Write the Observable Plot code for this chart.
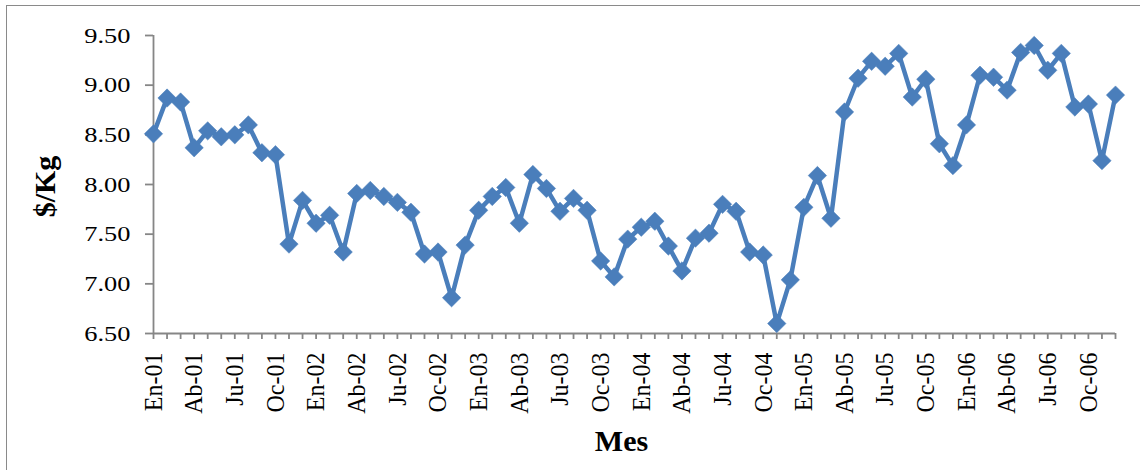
<!DOCTYPE html>
<html>
<head>
<meta charset="utf-8">
<script src="https://cdn.jsdelivr.net/npm/d3@7"></script>
<script src="https://cdn.jsdelivr.net/npm/@observablehq/plot@0.6"></script>
<style>
  html, body { margin: 0; padding: 0; background: #fff; }
  #wrap { position: relative; width: 1140px; height: 470px; overflow: hidden; }
  #border { position: absolute; left: 6px; top: 5px; width: 1300px; height: 600px;
            border-left: 1.5px solid #8a8a8a; border-top: 1.5px solid #8a8a8a; }
  #chart { position: absolute; left: 0; top: 0; }
  #chart svg text { font-family: 'Liberation Serif', 'Times New Roman', serif; }
</style>
</head>
<body>
<div id="wrap"><div id="border"></div><div id="chart"></div></div>
<script>
const years = ["01", "02", "03", "04", "05", "06"];
const monthAbbr = ["En", "Fe", "Mr", "Ab", "My", "Jn", "Ju", "Ag", "Se", "Oc", "No", "Di"];
const values2001 = [8.51, 8.87, 8.83, 8.37, 8.54, 8.48, 8.50, 8.60, 8.32, 8.30, 7.40, 7.84];
const values2002 = [7.61, 7.69, 7.32, 7.91, 7.94, 7.88, 7.82, 7.72, 7.30, 7.32, 6.86, 7.39];
const values2003 = [7.74, 7.88, 7.97, 7.61, 8.10, 7.96, 7.73, 7.86, 7.74, 7.23, 7.07, 7.45];
const values2004 = [7.57, 7.63, 7.38, 7.13, 7.46, 7.51, 7.80, 7.73, 7.32, 7.29, 6.60, 7.04];
const values2005 = [7.77, 8.09, 7.66, 8.73, 9.07, 9.24, 9.19, 9.32, 8.88, 9.06, 8.41, 8.19];
const values2006 = [8.60, 9.10, 9.08, 8.95, 9.33, 9.40, 9.15, 9.32, 8.78, 8.81, 8.24, 8.90];
const yTicks = [6.5, 7.0, 7.5, 8.0, 8.5, 9.0, 9.5];
const yLabel = "$/Kg";
const xLabel = "Mes";

const allValues = [values2001, values2002, values2003, values2004, values2005, values2006];
const data = [];
years.forEach((yr, yi) => {
  monthAbbr.forEach((m, mi) => {
    data.push({ mes: `${m}-${yr}`, idx: yi * 12 + mi, precio: allValues[yi][mi] });
  });
});
const cats = data.map(d => d.mes);

const blue = "#4a7ebb";
const gray = "#868686";
const font = "'Liberation Serif', 'Times New Roman', serif";

const chart = Plot.plot({
  width: 1140,
  height: 470,
  marginLeft: 153,
  marginRight: 25,
  marginTop: 35,
  marginBottom: 137,
  style: { background: "transparent", fontFamily: font, color: "#000", overflow: "visible" },
  x: { type: "point", domain: cats, padding: 0 },
  y: { domain: [6.5, 9.5] },
  marks: [
    Plot.ruleY([6.5], { stroke: gray, strokeWidth: 1.8 }),
    Plot.ruleX([cats[0]], { stroke: gray, strokeWidth: 1.8 }),
    Plot.axisY({
      ticks: yTicks, tickSize: 8, tickPadding: 15, stroke: gray, strokeWidth: 1.8, strokeOpacity: 1,
      tickFormat: d => d.toFixed(2), fontSize: 22, fontFamily: font, label: null, fill: "#000"
    }),
    Plot.axisX({
      ticks: cats, tickSize: 6, tickPadding: 13, tickRotate: -90, stroke: gray, strokeWidth: 1.8, strokeOpacity: 1,
      tickFormat: (d) => (cats.indexOf(d) % 3 === 0 ? d : ""), fontSize: 24, fontFamily: font, label: null, fill: "#000"
    }),
    Plot.line(data, { x: "mes", y: "precio", stroke: blue, strokeWidth: 4.5, strokeLinejoin: "round" }),
    Plot.dot(data, { x: "mes", y: "precio", symbol: "diamond2", r: 8.3, fill: blue, stroke: blue, strokeWidth: 0.5 }),
    Plot.text([yLabel], { frameAnchor: "left", textAnchor: "middle", lineAnchor: "middle", dx: -108, dy: 2, rotate: -90,
      text: d => d, fontSize: 30, fontWeight: "bold", fontFamily: font, fill: "#000" }),
    Plot.text([xLabel], { frameAnchor: "bottom", textAnchor: "middle", lineAnchor: "middle", dx: -13, dy: 108,
      text: d => d, fontSize: 30, fontWeight: "bold", fontFamily: font, fill: "#000" })
  ]
});
document.getElementById("chart").appendChild(chart);

// Horizontal stretch of tick labels, as in the reference picture
function stretch(sel, sx) {
  d3.select(chart).selectAll(sel).each(function () {
    const t = this.getAttribute("transform");
    if (t && /translate\([^)]*\)/.test(t)) {
      this.setAttribute("transform", t.replace(/(translate\([^)]*\))/, `$1 scale(${sx},1)`));
    }
  });
}
stretch('g[aria-label="y-axis tick label"] text', 1.2);
stretch('g[aria-label="x-axis tick label"] text', 1.08);
</script>
</body>
</html>
